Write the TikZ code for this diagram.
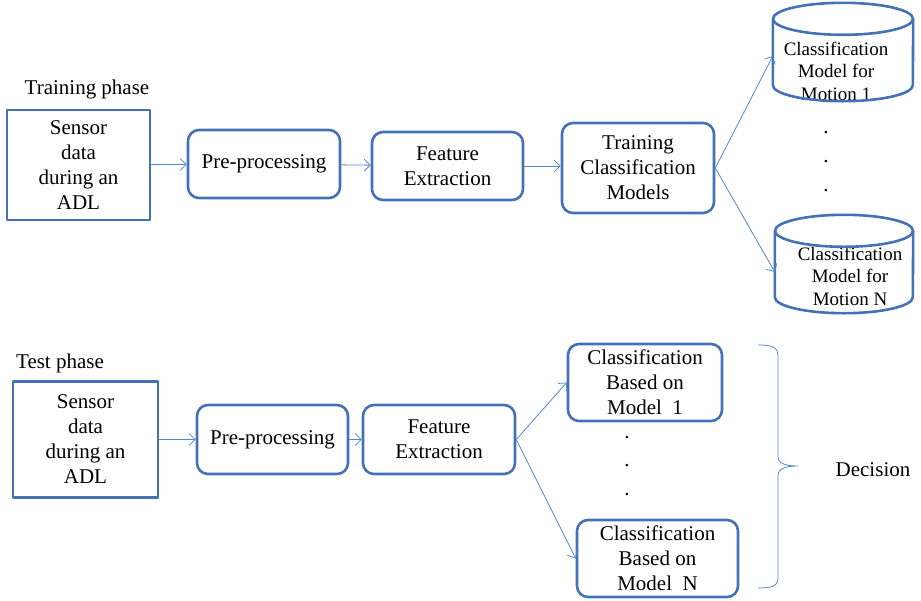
\documentclass[tikz,border=0pt]{standalone}
\usepackage{fontspec}
\setmainfont{Liberation Serif}
\usetikzlibrary{arrows.meta}
\definecolor{boxblue}{RGB}{68,114,180}
\definecolor{lineblue}{RGB}{85,135,205}
\tikzset{
	plain/.style={draw=boxblue,line width=2.6pt,align=center,inner sep=0pt},
	roundbox/.style={plain,rounded corners=11pt},
	dbase/.style={align=center,inner sep=0pt},
	dbtext/.style={align=center,font=\fontsize{19}{22.5}\selectfont},
	dbline/.style={draw=boxblue,line width=2.6pt},
	flow/.style={draw=lineblue,line width=0.8pt}
}
% cylinder outline round a named node: name, half width, cap radius
\newcommand{\dbdraw}[3]{%
	\draw[dbline] ([yshift=-#3]#1.north west) -- ([yshift=#3]#1.south west)
		arc[start angle=180,end angle=360,x radius=#2,y radius=#3] -- ([yshift=-#3]#1.north east);
	\draw[dbline] ([yshift=-#3]#1.north) ellipse[x radius=#2,y radius=#3];}
\begin{document}
\begin{tikzpicture}[x=1pt,y=-1pt,>={Straight Barb[length=6pt,width=12pt]},font=\fontsize{21}{25}\selectfont,line join=round]
	\useasboundingbox (0,0) rectangle (921,600);
	% training phase
	\node (trainlbl) at (87,89) {Training phase};
	\node[plain,minimum width=143,minimum height=110] (sensA) at (78.5,165) {Sensor\\data\\during an\\ADL};
	\node[roundbox,minimum width=152,minimum height=68] (preA) at (264,164) {Pre-processing};
	\node[roundbox,minimum width=151,minimum height=68] (featA) at (447.5,166) {Feature\\Extraction};
	\node[roundbox,minimum width=152,minimum height=90] (trainA) at (638,168) {Training\\Classification\\Models};
	\node[dbase,minimum width=140,minimum height=98] (modA) at (843,52) {};
	\node[dbtext] (modAtxt) at (836,71) {Classification\\Model for\\Motion 1};
	\node[dbase,minimum width=138,minimum height=98] (modN) at (844,264) {};
	\node[dbtext] (modNtxt) at (850,276) {Classification\\Model for\\Motion N};
	\dbdraw{modA}{70pt}{16pt}
	\dbdraw{modN}{69pt}{16pt}
	\foreach \y [count=\i] in {133,162,191}
		\node (dotA\i) at (826,\y) {.};
	\draw[flow,->] (sensA) -- (preA);
	\draw[flow,->] (preA) -- (featA);
	\draw[flow,->] (featA.east) -- (trainA.west |- featA.east);
	\draw[flow,->] (trainA.east) -- ([yshift=-4pt]modA.west);
	\draw[flow,->] (trainA.east) -- ([yshift=-8pt]modN.west);
	% test phase
	\node (testlbl) at (60,363) {Test phase};
	\node[plain,minimum width=145,minimum height=116] (sensB) at (85.5,439.5) {Sensor\\data\\during an\\ADL};
	\node[roundbox,minimum width=151,minimum height=69] (preB) at (272.5,439.5) {Pre-processing};
	\node[roundbox,minimum width=152,minimum height=69] (featB) at (439,439.5) {Feature\\Extraction};
	\node[roundbox,minimum width=154,minimum height=77] (clsA) at (645,382.5) {Classification\\Based on\\Model~~1};
	\node[roundbox,minimum width=161,minimum height=77] (clsN) at (657.5,558.5) {Classification\\Based on\\Model~~N};
	\foreach \y [count=\i] in {438,466,495}
		\node (dotB\i) at (627,\y) {.};
	\draw[flow,->] (sensB) -- (preB);
	\draw[flow,->] (preB) -- (featB);
	\draw[flow,->] (featB.east) -- (clsA.west);
	\draw[flow,->] (featB.east) -- (clsN.west);
	\draw[flow] (758,345) .. controls (772,345) and (778,347) .. (778,356) -- (778,456)
		.. controls (778,463) and (784,466) .. (798,466)
		.. controls (784,466) and (778,469) .. (778,476) -- (778,578)
		.. controls (778,586) and (772,588) .. (758,588);
	\node (decide) at (873,470) {Decision};
\end{tikzpicture}
\end{document}
